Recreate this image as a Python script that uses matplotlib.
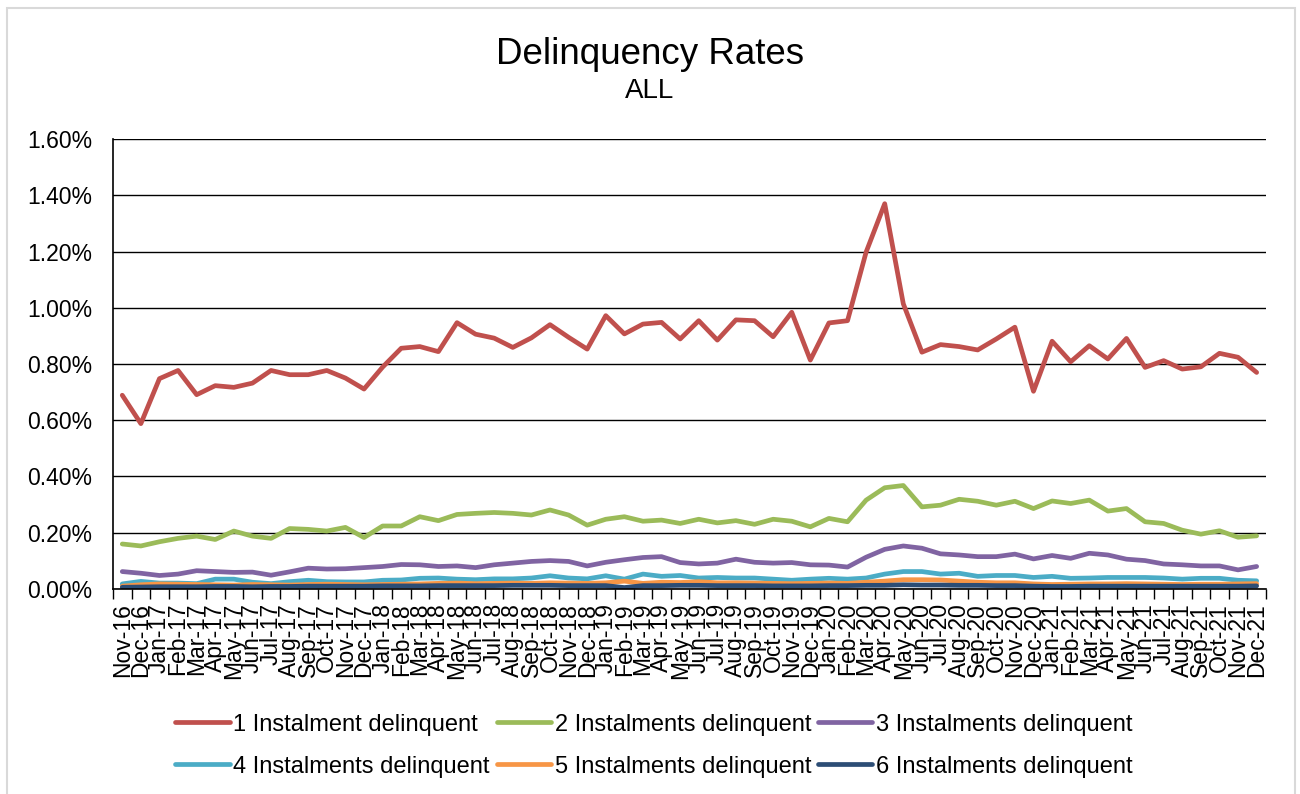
import numpy as np
import pandas as pd
import matplotlib
matplotlib.use("Agg")
import matplotlib.pyplot as plt
from matplotlib.ticker import FuncFormatter, FixedLocator
from matplotlib.patches import Rectangle

plt.rcParams['font.family'] = ['Liberation Sans', 'DejaVu Sans']

# month labels Nov-16 .. Dec-21
months = list(pd.date_range('2016-11-01', periods=62, freq='MS').strftime('%b-%y'))

# delinquency rates in percent
inst_1 = [0.689, 0.588, 0.748, 0.777, 0.691, 0.723, 0.717, 0.732, 0.777, 0.762, 0.762,
          0.777, 0.750, 0.711, 0.789, 0.856, 0.862, 0.844, 0.947, 0.906, 0.892,
          0.859, 0.893, 0.940, 0.895, 0.853, 0.972, 0.907, 0.942, 0.948, 0.889, 0.954,
          0.885, 0.957, 0.954, 0.897, 0.984, 0.814, 0.946, 0.954, 1.198, 1.370, 1.014,
          0.842, 0.869, 0.862, 0.850, 0.889, 0.931, 0.703, 0.881, 0.808, 0.865, 0.818,
          0.891, 0.788, 0.812, 0.782, 0.790, 0.838, 0.824, 0.770]
inst_2 = [0.160, 0.153, 0.168, 0.180, 0.188, 0.176, 0.206, 0.188, 0.180, 0.215, 0.212,
          0.206, 0.219, 0.183, 0.224, 0.224, 0.257, 0.243, 0.265, 0.269, 0.272,
          0.269, 0.263, 0.281, 0.263, 0.227, 0.248, 0.257, 0.241, 0.245, 0.233, 0.248,
          0.235, 0.243, 0.230, 0.248, 0.241, 0.221, 0.251, 0.239, 0.316, 0.360,
          0.368, 0.292, 0.298, 0.319, 0.312, 0.298, 0.312, 0.286, 0.313, 0.304, 0.316,
          0.277, 0.286, 0.239, 0.233, 0.209, 0.195, 0.207, 0.184, 0.189]
inst_3 = [0.062, 0.056, 0.048, 0.053, 0.065, 0.062, 0.059, 0.060, 0.049, 0.061, 0.074,
          0.071, 0.072, 0.076, 0.080, 0.087, 0.086, 0.080, 0.082, 0.076, 0.086,
          0.092, 0.098, 0.101, 0.098, 0.082, 0.095, 0.104, 0.112, 0.115, 0.094, 0.089,
          0.092, 0.106, 0.095, 0.092, 0.094, 0.086, 0.085, 0.078, 0.113, 0.141,
          0.153, 0.145, 0.125, 0.121, 0.115, 0.115, 0.124, 0.107, 0.119, 0.109, 0.127,
          0.121, 0.106, 0.101, 0.089, 0.086, 0.082, 0.082, 0.068, 0.080]
inst_4 = [0.018, 0.027, 0.021, 0.021, 0.019, 0.035, 0.035, 0.024, 0.019, 0.026, 0.031,
          0.026, 0.025, 0.025, 0.031, 0.032, 0.038, 0.039, 0.035, 0.033, 0.036,
          0.036, 0.039, 0.047, 0.039, 0.036, 0.047, 0.035, 0.053, 0.045, 0.048, 0.039,
          0.041, 0.039, 0.039, 0.035, 0.031, 0.035, 0.038, 0.035, 0.039, 0.053,
          0.062, 0.062, 0.053, 0.056, 0.045, 0.048, 0.048, 0.041, 0.045, 0.038, 0.039,
          0.041, 0.041, 0.041, 0.039, 0.035, 0.038, 0.038, 0.031, 0.029]
inst_5 = [0.010, 0.015, 0.018, 0.017, 0.016, 0.015, 0.014, 0.016, 0.015, 0.014, 0.016,
          0.017, 0.016, 0.015, 0.016, 0.017, 0.018, 0.020, 0.021, 0.019, 0.020,
          0.021, 0.020, 0.022, 0.021, 0.020, 0.022, 0.028, 0.020, 0.024, 0.023, 0.026,
          0.022, 0.022, 0.021, 0.020, 0.019, 0.020, 0.021, 0.020, 0.024, 0.028,
          0.033, 0.033, 0.032, 0.028, 0.024, 0.022, 0.022, 0.018, 0.016, 0.017, 0.018,
          0.018, 0.019, 0.018, 0.017, 0.016, 0.017, 0.017, 0.018, 0.019]
inst_6 = [0.006, 0.007, 0.008, 0.008, 0.008, 0.009, 0.009, 0.008, 0.009, 0.009, 0.010,
          0.010, 0.010, 0.010, 0.011, 0.011, 0.011, 0.012, 0.012, 0.012, 0.012,
          0.013, 0.013, 0.013, 0.012, 0.012, 0.012, 0.005, 0.012, 0.012, 0.013, 0.013,
          0.012, 0.012, 0.012, 0.011, 0.011, 0.011, 0.012, 0.012, 0.013, 0.013,
          0.015, 0.014, 0.014, 0.013, 0.013, 0.012, 0.012, 0.010, 0.009, 0.009, 0.010,
          0.010, 0.010, 0.010, 0.010, 0.010, 0.010, 0.010, 0.010, 0.011]

series_names = ['1 Instalment delinquent', '2 Instalments delinquent', '3 Instalments delinquent',
                '4 Instalments delinquent', '5 Instalments delinquent', '6 Instalments delinquent']
series = [inst_1, inst_2, inst_3, inst_4, inst_5, inst_6]
colors = ['#C0504D', '#9BBB59', '#8064A2', '#4BACC6', '#F79646', '#2C4D75']

fig = plt.figure(figsize=(13, 7.94), dpi=100)
ax = fig.add_axes([0.0869, 0.2582, 0.8869, 0.5667])

x = np.arange(len(months))
lines = []
for vals, name, c in zip(series, series_names, colors):
    ln, = ax.plot(x, vals, color=c, lw=3.4, label=name, solid_capstyle='round',
                  solid_joinstyle='round')
    lines.append(ln)

ax.set_xlim(-0.5, len(months) - 0.5)
ax.set_ylim(0, 1.6)
ax.set_yticks(np.arange(0, 1.61, 0.2))
ax.yaxis.set_major_formatter(FuncFormatter(lambda v, p: f'{v:.2f}%'))
ax.yaxis.grid(True, color='black', lw=1.0)
ax.set_axisbelow(True)
ax.tick_params(axis='y', length=0, labelsize=16.5, pad=15)

ax.set_xticks(x)
ax.set_xticklabels(months, rotation=90, fontsize=16.5)
ax.tick_params(axis='x', which='major', length=0, pad=10)
ax.xaxis.set_minor_locator(FixedLocator(np.arange(-0.5, len(months), 1)))
ax.tick_params(axis='x', which='minor', length=7, width=1, color='black')

for s in ['top', 'right']:
    ax.spines[s].set_visible(False)
for s in ['left', 'bottom']:
    ax.spines[s].set_color('black')
    ax.spines[s].set_linewidth(1.2)

fig.text(0.5, 0.931, 'Delinquency Rates', ha='center', va='center', fontsize=26.5)
fig.text(0.5, 0.885, 'ALL', ha='center', va='center', fontsize=20)

# legend filled row by row, as in the reference
order = [0, 3, 1, 4, 2, 5]
ax.legend([lines[i] for i in order], [series_names[i] for i in order],
          loc='upper center', bbox_to_anchor=(0.503, 0.128), bbox_transform=fig.transFigure,
          ncol=3, frameon=False, fontsize=17, handlelength=2.3, handletextpad=0.15,
          columnspacing=0.3, labelspacing=0.85)

fig.patches.append(Rectangle((7 / 1300, -0.05), 1288 / 1300, 1.05 - 8 / 794,
                             transform=fig.transFigure, fill=False,
                             edgecolor='#D9D9D9', lw=1.5))

fig.savefig('out.png', dpi=100)
